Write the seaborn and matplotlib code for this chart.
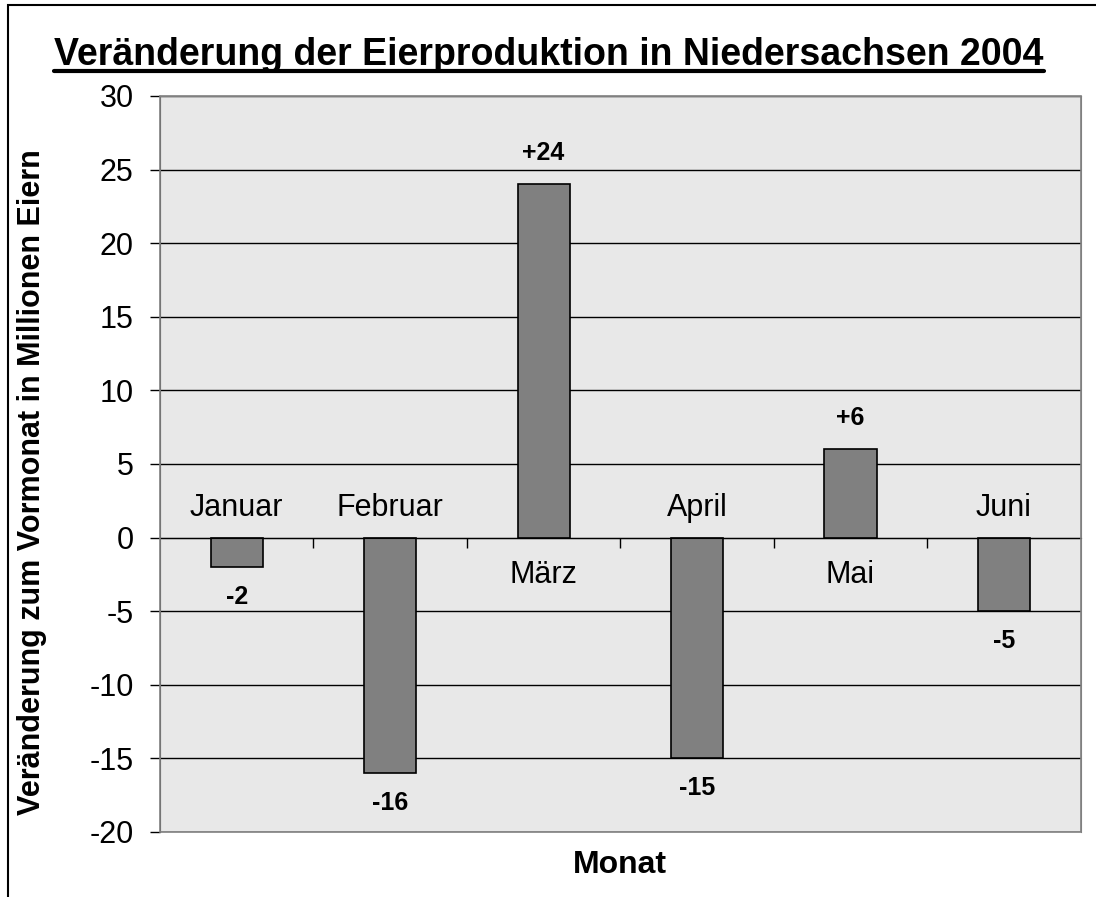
import matplotlib
matplotlib.use("Agg")
import matplotlib.pyplot as plt
import matplotlib.patches as patches
import seaborn as sns
import pandas as pd

# data
months = ["Januar", "Februar", "März", "April", "Mai", "Juni"]
changes = [-2, -16, 24, -15, 6, -5]
value_labels = ["-2", "-16", "+24", "-15", "+6", "-5"]

df = pd.DataFrame({"Monat": months, "Veraenderung": changes})

sns.set_style("white")
plt.rcParams["font.family"] = ["Liberation Sans", "DejaVu Sans"]
plt.rcParams["axes.unicode_minus"] = False
for k in ["text.color", "axes.labelcolor", "xtick.color", "ytick.color"]:
    plt.rcParams[k] = "black"

fig = plt.figure(figsize=(10.96, 8.97), dpi=100)
ax = fig.add_axes([0.146, 0.0725, 0.840, 0.8205])
ax.set_facecolor("#E8E8E8")

sns.barplot(data=df, x="Monat", y="Veraenderung", color="#808080",
            edgecolor="black", linewidth=1.2, width=0.34, saturation=1, ax=ax)

ax.set_ylim(-20, 30)
ax.set_xlim(-0.5, len(months) - 0.5)
ax.set_yticks(range(-20, 31, 5))
ax.yaxis.grid(True, color="black", linewidth=1)
ax.set_axisbelow(True)
ax.tick_params(axis="y", labelsize=22, direction="out", length=7, width=1,
               color="black", left=True, pad=12)

# x axis sits on the zero line, ticks between categories
ax.spines["bottom"].set_position(("data", 0))
ax.spines["bottom"].set_color("black")
ax.set_xticks(range(len(months)))
ax.set_xticklabels([])
ax.tick_params(axis="x", which="major", length=0)
ax.set_xticks([i + 0.5 for i in range(len(months) - 1)], minor=True)
ax.tick_params(axis="x", which="minor", direction="out", length=7, width=1,
               color="black", bottom=True)
for s in ["top", "right"]:
    ax.spines[s].set_color("#808080")
ax.spines["left"].set_color("#404040")
ax.add_patch(patches.Rectangle((0, 0), 1, 1, transform=ax.transAxes, fill=False,
                               edgecolor="#808080", linewidth=1.2, clip_on=False, zorder=5))
ax.set_xlabel("")
ax.set_ylabel("")

# value labels and month labels
for i, (v, lab) in enumerate(zip(changes, value_labels)):
    if v > 0:
        ax.text(i, v + 1.3, lab, ha="center", va="bottom", fontsize=18, fontweight="bold")
        ax.text(i, -1.5, months[i], ha="center", va="top", fontsize=22)
    else:
        ax.text(i, v - 1.2, lab, ha="center", va="top", fontsize=18, fontweight="bold")
        ax.text(i, 1.0, months[i], ha="center", va="bottom", fontsize=22)

fig.text(0.029, 0.463, "Veränderung zum Vormonat in Millionen Eiern", rotation=90,
         ha="center", va="center", fontsize=22, fontweight="bold")
fig.text(0.566, 0.036, "Monat", ha="center", va="center", fontsize=23, fontweight="bold")

title = fig.text(0.501, 0.928, "Veränderung der Eierproduktion in Niedersachsen 2004",
                 ha="center", va="baseline", fontsize=27, fontweight="bold")
fig.canvas.draw()
bb = title.get_window_extent().transformed(fig.transFigure.inverted())
fig.add_artist(plt.Line2D([bb.x0, bb.x1], [0.921, 0.921], color="black",
                          linewidth=3, transform=fig.transFigure))

# outer chart frame
fig.add_artist(patches.Rectangle((0.007, -0.1), 1.1, 1.0945, transform=fig.transFigure,
                                 fill=False, edgecolor="black", linewidth=1.5))

fig.savefig("out.png", dpi=100)
